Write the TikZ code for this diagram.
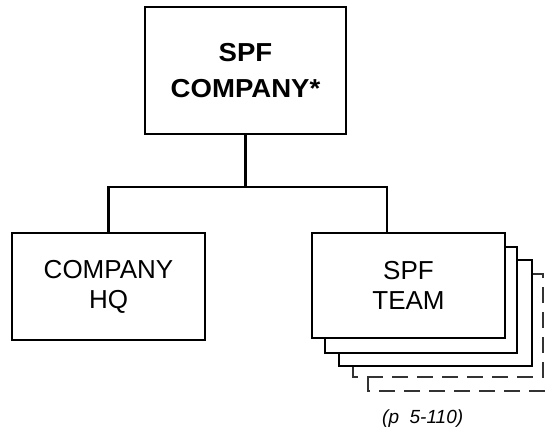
\documentclass[tikz,border=0pt]{standalone}
\usepackage{fontspec}
\setmainfont{Liberation Sans}
\newfontfamily\widebold[FakeStretch=1.06]{Liberation Sans Bold}
\begin{document}
\begin{tikzpicture}[x=1pt,y=-1pt,
  box/.style={draw=black, line width=2.2pt, fill=white, inner sep=0pt, align=center},
  ghost/.style={draw=black!80, line width=1.3pt, dash pattern=on 16pt off 9pt},
  conn/.style={draw=black, line width=2.2pt}]
\useasboundingbox (0,0) rectangle (548,436);
% top box
\node[box, minimum width=201pt, minimum height=127pt,
  font=\widebold\fontsize{26pt}{36pt}\selectfont] (top) at (245.5,70.5) {SPF\\COMPANY*};
% left box
\node[box, minimum width=193pt, minimum height=107pt,
  font=\fontsize{26pt}{30pt}\selectfont] (hq) at (108.5,286.5) {COMPANY\\HQ};
% ghost boxes (dashed) behind the stack
\coordinate (g5a) at (368,377);
\coordinate (g5b) at (368,391);
\coordinate (g5c) at (548,391);
\draw[ghost] (g5a) -- (g5b) -- (g5c);
\coordinate (g4a) at (353,366);
\coordinate (g4b) at (353,377);
\coordinate (g4c) at (543,377);
\coordinate (g4d) at (543,274);
\coordinate (g4e) at (532,274);
\draw[ghost] (g4a) -- (g4b) -- (g4c) -- (g4d) -- (g4e);
% stack boxes
\node[box, minimum width=193pt, minimum height=106pt] (team3) at (435.5,313) {};
\node[box, minimum width=192pt, minimum height=106pt] (team2) at (421,300) {};
\node[box, minimum width=193pt, minimum height=105pt,
  font=\fontsize{26pt}{30pt}\selectfont] (team) at (408.5,285.5) {SPF\\TEAM};
% connectors
\coordinate (jr) at (387,187);
\draw[conn] (top.south) -- (top.south |- jr);
\draw[conn] (hq.north) |- (jr) -- (jr |- team.north);
% reference label
\node[font=\itshape\fontsize{19pt}{20pt}\selectfont, anchor=base west, inner sep=0pt] (ref) at (382,423) {(p\ \ 5-110)};
\end{tikzpicture}
\end{document}
